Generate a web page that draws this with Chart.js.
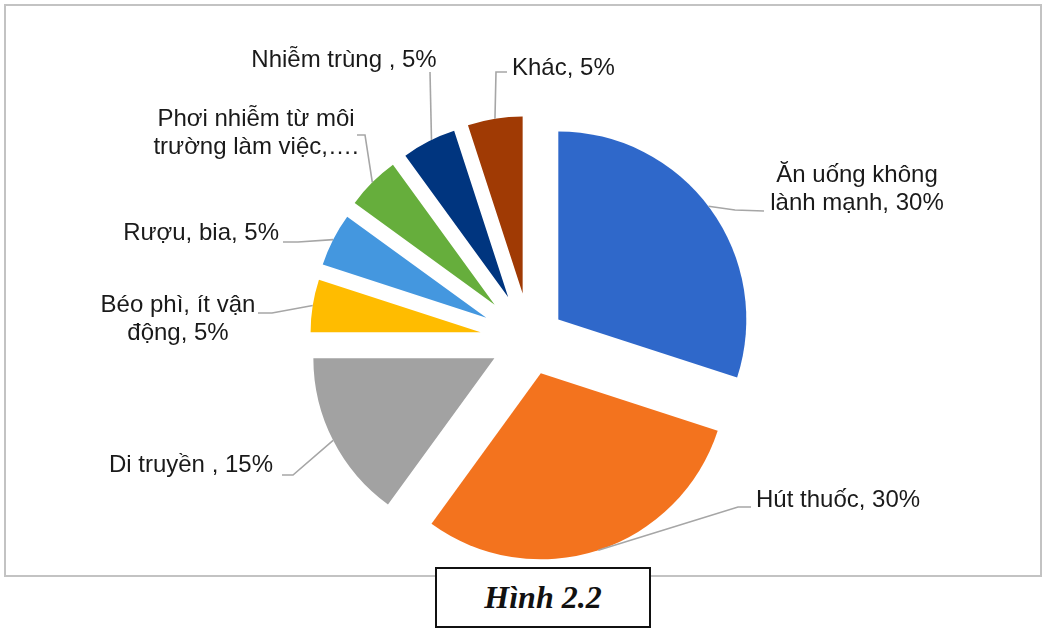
<!DOCTYPE html>
<html>
<head>
<meta charset="utf-8">
<script src="https://cdn.jsdelivr.net/npm/chart.js@4.4.1/dist/chart.umd.min.js"></script>
<style>
  html, body { margin: 0; padding: 0; background: #ffffff; }
  #wrap { position: relative; width: 1050px; height: 631px; overflow: hidden; }
  #frame { position: absolute; left: 4px; top: 4px; width: 1038px; height: 573px; box-sizing: border-box; border: 2px solid #C3C3C3; }
  #cv { position: absolute; left: 0; top: 0; }
  #caption { position: absolute; left: 435px; top: 567px; width: 216px; height: 61px; box-sizing: border-box;
    border: 2px solid #111; background: #fff; font-family: "Liberation Serif", "Times New Roman", serif;
    font-weight: bold; font-style: italic; font-size: 32px; line-height: 57px; text-align: center; color: #111; }
</style>
</head>
<body>
<div id="wrap">
  <div id="frame"></div>
  <canvas id="cv" width="1050" height="631"></canvas>
  <div id="caption">Hình 2.2</div>
</div>
<script>
// ---- data ----
const categories = ['Ăn uống không lành mạnh', 'Hút thuốc', 'Di truyền ', 'Béo phì, ít vận động', 'Rượu, bia',
  'Phơi nhiễm từ môi trường làm việc,…', 'Nhiễm trùng ', 'Khác'];
const values = [30, 30, 15, 5, 5, 5, 5, 5];
// displayed label lines ({p} = percentage of the slice)
const labelLines = [
  ['Ăn uống không', 'lành mạnh, {p}%'],
  ['Hút thuốc, {p}%'],
  ['Di truyền , {p}%'],
  ['Béo phì, ít vận', 'động, {p}%'],
  ['Rượu, bia, {p}%'],
  ['Phơi nhiễm từ môi', 'trường làm việc,….'],
  ['Nhiễm trùng , {p}%'],
  ['Khác, {p}%']
];

// ---- styles ----
const colors = ['#2F68CA', '#F3731E', '#A2A2A2', '#FFBC00', '#4497DF', '#66AE3C', '#00357F', '#A03A04'];
const explode = [35, 35, 40, 50, 49, 50, 48, 47];      // px slice explosion
const radii = [188, 186, 181, 170, 172, 173, 175, 177]; // px slice radius
// label layout, offsets relative to pie centre (px)
const labelLayout = [
  { x: 327, y: -151, align: 'center', start: 53, pts: [[205, -130], [234, -129]] },
  { x: 226, y: 160, align: 'left', start: 162, pts: [[208, 167], [221, 167]] },
  { x: -257, y: 125, align: 'right', start: 243, pts: [[-237, 135], [-248, 135]] },
  { x: -352, y: -21, align: 'center', start: 279, pts: [[-258, -27], [-272, -27]] },
  { x: -251, y: -107, align: 'right', start: 297, pts: [[-232, -98], [-247, -98]] },
  { x: -274, y: -207, align: 'center', start: 315, pts: [[-165, -205], [-173, -205]] },
  { x: -186, y: -280, align: 'center', start: 334, pts: [[-100, -268]] },
  { x: -18, y: -272, align: 'left', start: 351, pts: [[-34, -268], [-23, -268]] }
];
const labelFont = '24px "Liberation Sans", Arial, sans-serif';
const lineHeight = 28;

const total = values.reduce((a, b) => a + b, 0);

const explodePlugin = {
  id: 'explodeSlices',
  beforeDatasetsDraw(chart) {
    const a = chart.chartArea;
    const cx = (a.left + a.right) / 2, cy = (a.top + a.bottom) / 2;
    chart.getDatasetMeta(0).data.forEach((arc, i) => {
      const mid = (arc.startAngle + arc.endAngle) / 2;
      arc.x = cx + explode[i] * Math.cos(mid);
      arc.y = cy + explode[i] * Math.sin(mid);
      arc.outerRadius = radii[i];
      arc.innerRadius = 0;
    });
  }
};

const labelPlugin = {
  id: 'sliceLabels',
  afterDatasetsDraw(chart) {
    const ctx = chart.ctx;
    const a = chart.chartArea;
    const cx = (a.left + a.right) / 2, cy = (a.top + a.bottom) / 2;
    const arcs = chart.getDatasetMeta(0).data;
    ctx.save();
    arcs.forEach((arc, i) => {
      const L = labelLayout[i];
      const t = (L.start - 90) * Math.PI / 180;
      ctx.beginPath();
      ctx.moveTo(arc.x + radii[i] * Math.cos(t), arc.y + radii[i] * Math.sin(t));
      L.pts.forEach(p => ctx.lineTo(cx + p[0], cy + p[1]));
      ctx.strokeStyle = '#A6A6A6';
      ctx.lineWidth = 1.6;
      ctx.stroke();

      const pct = Math.round(values[i] / total * 100);
      const lines = labelLines[i].map(s => s.replace('{p}', pct));
      ctx.font = labelFont;
      ctx.fillStyle = '#1A1A1A';
      ctx.textAlign = L.align;
      ctx.textBaseline = 'middle';
      const y0 = cy + L.y - (lines.length - 1) * lineHeight / 2;
      lines.forEach((s, k) => ctx.fillText(s, cx + L.x, y0 + k * lineHeight));
    });
    ctx.restore();
  }
};

new Chart(document.getElementById('cv'), {
  type: 'pie',
  data: {
    labels: categories,
    datasets: [{ data: values, backgroundColor: colors, borderWidth: 0, hoverOffset: 0 }]
  },
  options: {
    responsive: false,
    animation: false,
    events: [],
    layout: { padding: { left: 60, right: 50, top: 100, bottom: 51 } },
    plugins: { legend: { display: false }, tooltip: { enabled: false } }
  },
  plugins: [explodePlugin, labelPlugin]
});
</script>
</body>
</html>
